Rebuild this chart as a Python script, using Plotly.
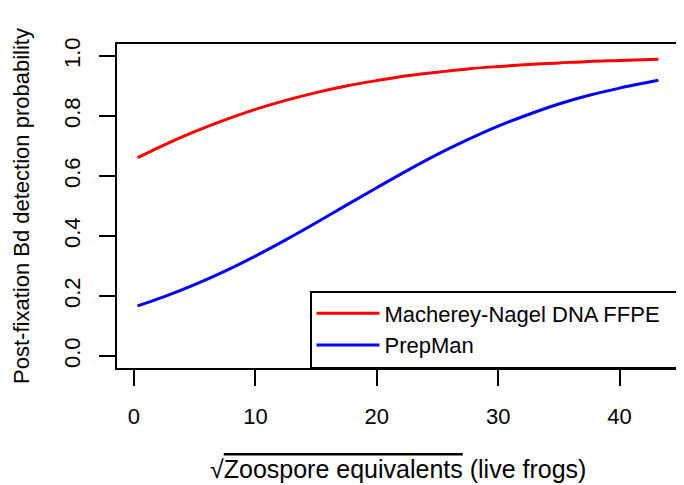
import plotly.graph_objects as go

# sqrt(zoospore equivalents) and fitted detection probability
x_vals = [0.3, 2.5, 5, 7.5, 10, 12.5, 15, 17.5, 20, 22.5, 25, 27.5, 30, 32.5, 35, 37.5, 40, 43.2]
p_macherey = [0.661, 0.704, 0.748, 0.787, 0.822, 0.852, 0.878, 0.900, 0.918,
              0.934, 0.946, 0.957, 0.965, 0.972, 0.977, 0.982, 0.985, 0.989]
p_prepman = [0.167, 0.198, 0.238, 0.283, 0.333, 0.387, 0.444, 0.503, 0.561,
             0.618, 0.672, 0.721, 0.766, 0.805, 0.840, 0.869, 0.893, 0.919]

names = ["Macherey-Nagel DNA FFPE\u00a0\u00a0", "PrepMan"]
colors = ["#ff0000", "#0000ff"]
x_ticks = [0, 10, 20, 30, 40]
y_ticks = [0.0, 0.2, 0.4, 0.6, 0.8, 1.0]

FONT = "Liberation Sans, Arial, sans-serif"

fig = go.Figure()
for name, ys, col in zip(names, [p_macherey, p_prepman], colors):
    fig.add_trace(go.Scatter(x=x_vals, y=ys, name=name, mode="lines",
                             line=dict(color=col, width=3, shape="spline")))

axis_style = dict(showline=True, linecolor="black", linewidth=1.5, mirror=True,
                  ticks="outside", ticklen=16, tickwidth=1.5, tickcolor="black",
                  showgrid=False, zeroline=False,
                  tickfont=dict(family=FONT, size=22, color="black"))

fig.update_xaxes(range=[-1.4, 44.9], tickvals=x_ticks, ticktext=[str(t) for t in x_ticks],
                 ticklabelstandoff=12, **axis_style)
fig.update_yaxes(range=[-0.04, 1.04], tickvals=y_ticks, ticktext=["%.1f" % t for t in y_ticks],
                 tickangle=-90, ticklabelstandoff=10, **axis_style)

# page body has an 8px margin, so the figure is shrunk by that much
fig.update_layout(
    width=676, height=477,
    margin=dict(l=109, r=3, t=36, b=117),
    plot_bgcolor="white", paper_bgcolor="white",
    font=dict(family=FONT, size=22, color="black"),
    legend=dict(x=1, y=0, xanchor="right", yanchor="bottom",
                bordercolor="black", borderwidth=1.5, bgcolor="white",
                itemwidth=63, tracegroupgap=0,
                font=dict(family=FONT, size=22, color="black")),
    annotations=[
        dict(text="\u221a<span style='text-decoration:overline'>Zoospore equivalents</span> (live frogs)",
             xref="paper", yref="paper", x=0.5, y=-0.313, xanchor="center", yanchor="middle",
             showarrow=False, font=dict(family=FONT, size=25, color="black")),
        dict(text="Post-fixation Bd detection probability", textangle=-90,
             xref="paper", yref="paper", x=-0.171, y=0.5, xanchor="center", yanchor="middle",
             showarrow=False, font=dict(family=FONT, size=22, color="black")),
    ],
)

fig.write_html("out.html")
